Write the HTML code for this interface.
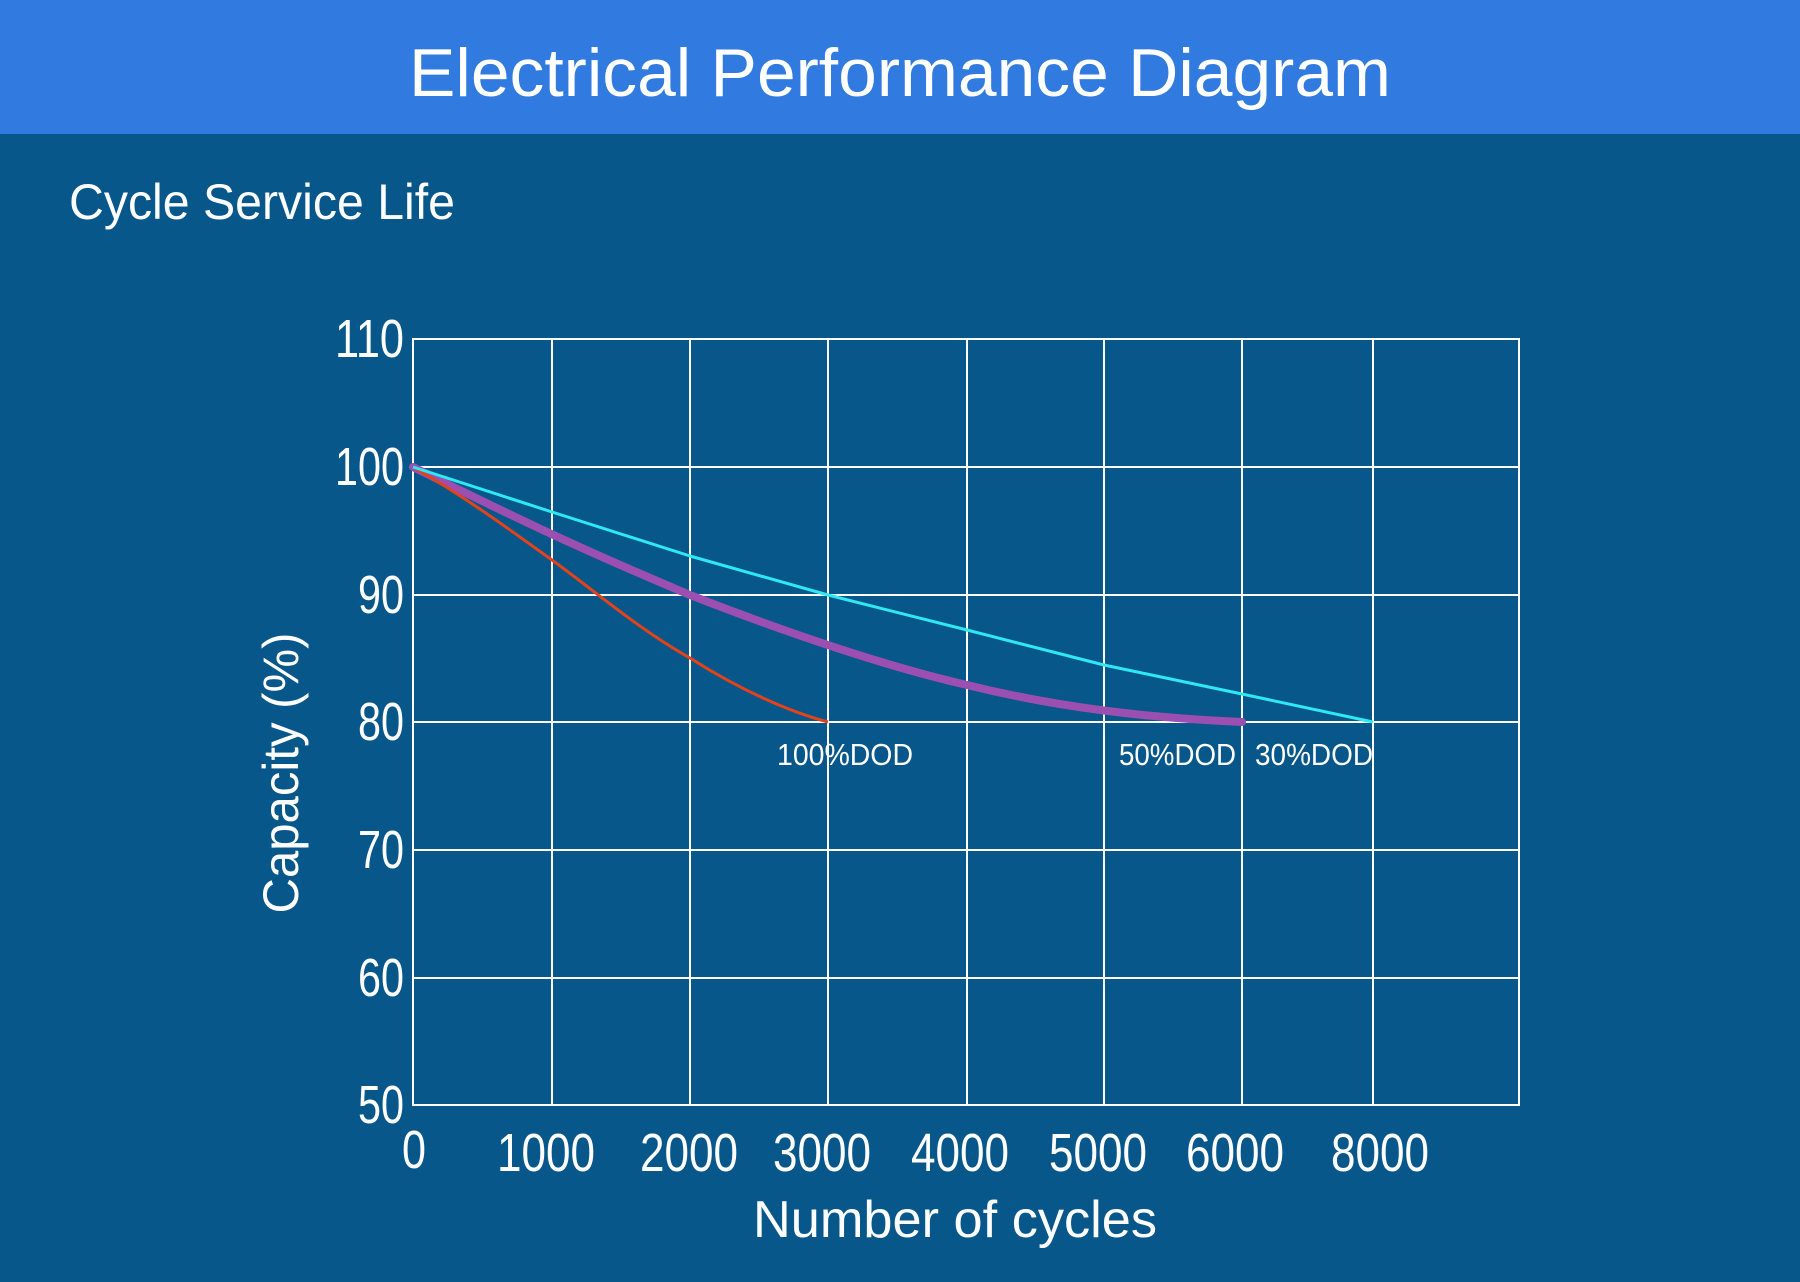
<!DOCTYPE html>
<html><head><meta charset="utf-8"><style>
html,body{margin:0;padding:0;}
body{width:1800px;height:1277px;overflow:hidden;background:#07578a;font-family:"Liberation Sans",sans-serif;}
</style></head><body>
<svg width="1800" height="1277" viewBox="0 0 1800 1277" xmlns="http://www.w3.org/2000/svg">
<rect x="0" y="0" width="1800" height="1277" fill="#07578a"/>
<rect x="0" y="0" width="1800" height="134" fill="#317be0"/>
<text x="900" y="96" fill="#fff" font-size="68" text-anchor="middle" textLength="982" lengthAdjust="spacingAndGlyphs">Electrical Performance Diagram</text>
<text x="69" y="219" fill="#fff" font-size="50" textLength="386" lengthAdjust="spacingAndGlyphs">Cycle Service Life</text>
<g stroke="#fff" stroke-width="2" fill="none">
<rect x="413" y="339" width="1106" height="766"/>
<line x1="413" y1="467" x2="1519" y2="467"/>
<line x1="413" y1="595" x2="1519" y2="595"/>
<line x1="413" y1="722" x2="1519" y2="722"/>
<line x1="413" y1="850" x2="1519" y2="850"/>
<line x1="413" y1="978" x2="1519" y2="978"/>
<line x1="552" y1="339" x2="552" y2="1105"/>
<line x1="690" y1="339" x2="690" y2="1105"/>
<line x1="828" y1="339" x2="828" y2="1105"/>
<line x1="967" y1="339" x2="967" y2="1105"/>
<line x1="1104" y1="339" x2="1104" y2="1105"/>
<line x1="1242" y1="339" x2="1242" y2="1105"/>
<line x1="1373" y1="339" x2="1373" y2="1105"/>
</g>
<g fill="#fff" font-size="54" text-anchor="end">
<text x="404" y="357" textLength="69" lengthAdjust="spacingAndGlyphs">110</text>
<text x="404" y="485" textLength="69" lengthAdjust="spacingAndGlyphs">100</text>
<text x="404" y="613" textLength="46" lengthAdjust="spacingAndGlyphs">90</text>
<text x="404" y="740" textLength="46" lengthAdjust="spacingAndGlyphs">80</text>
<text x="404" y="868" textLength="46" lengthAdjust="spacingAndGlyphs">70</text>
<text x="404" y="996" textLength="46" lengthAdjust="spacingAndGlyphs">60</text>
<text x="404" y="1123" textLength="46" lengthAdjust="spacingAndGlyphs">50</text>
</g>
<g fill="#fff" font-size="54" text-anchor="middle">
<text x="414" y="1168" textLength="24" lengthAdjust="spacingAndGlyphs">0</text>
<text x="546" y="1171" textLength="98" lengthAdjust="spacingAndGlyphs">1000</text>
<text x="689" y="1171" textLength="98" lengthAdjust="spacingAndGlyphs">2000</text>
<text x="822" y="1171" textLength="98" lengthAdjust="spacingAndGlyphs">3000</text>
<text x="960" y="1171" textLength="98" lengthAdjust="spacingAndGlyphs">4000</text>
<text x="1098" y="1171" textLength="98" lengthAdjust="spacingAndGlyphs">5000</text>
<text x="1235" y="1171" textLength="98" lengthAdjust="spacingAndGlyphs">6000</text>
<text x="1380" y="1171" textLength="98" lengthAdjust="spacingAndGlyphs">8000</text>
</g>
<text x="955" y="1237" fill="#fff" font-size="52" text-anchor="middle" textLength="404" lengthAdjust="spacingAndGlyphs">Number of cycles</text>
<text transform="translate(298,773) rotate(-90)" fill="#fff" font-size="50" text-anchor="middle" textLength="281" lengthAdjust="spacingAndGlyphs">Capacity (%)</text>
<path d="M413,467 C500,510 560,540 690,595 C780,630 880,665 967,685 C1060,708 1150,718 1242,722" stroke="#9b4fb0" stroke-width="8" fill="none" stroke-linecap="round"/>
<path d="M413,467 C470,500 510,530 552,560 C600,595 640,630 690,658 C740,690 790,712 828,722" stroke="#e2431b" stroke-width="3" fill="none"/>
<path d="M413,467 L552,512 L690,556 L828,595 L967,630 L1104,665 L1242,694 L1373,722" stroke="#2ee8f2" stroke-width="3" fill="none" stroke-linejoin="round"/>
<g fill="#fff" font-size="31">
<text x="777" y="765" textLength="136" lengthAdjust="spacingAndGlyphs">100%DOD</text>
<text x="1119" y="765" textLength="117" lengthAdjust="spacingAndGlyphs">50%DOD</text>
<text x="1255" y="765" textLength="118" lengthAdjust="spacingAndGlyphs">30%DOD</text>
</g>
</svg>
</body></html>
